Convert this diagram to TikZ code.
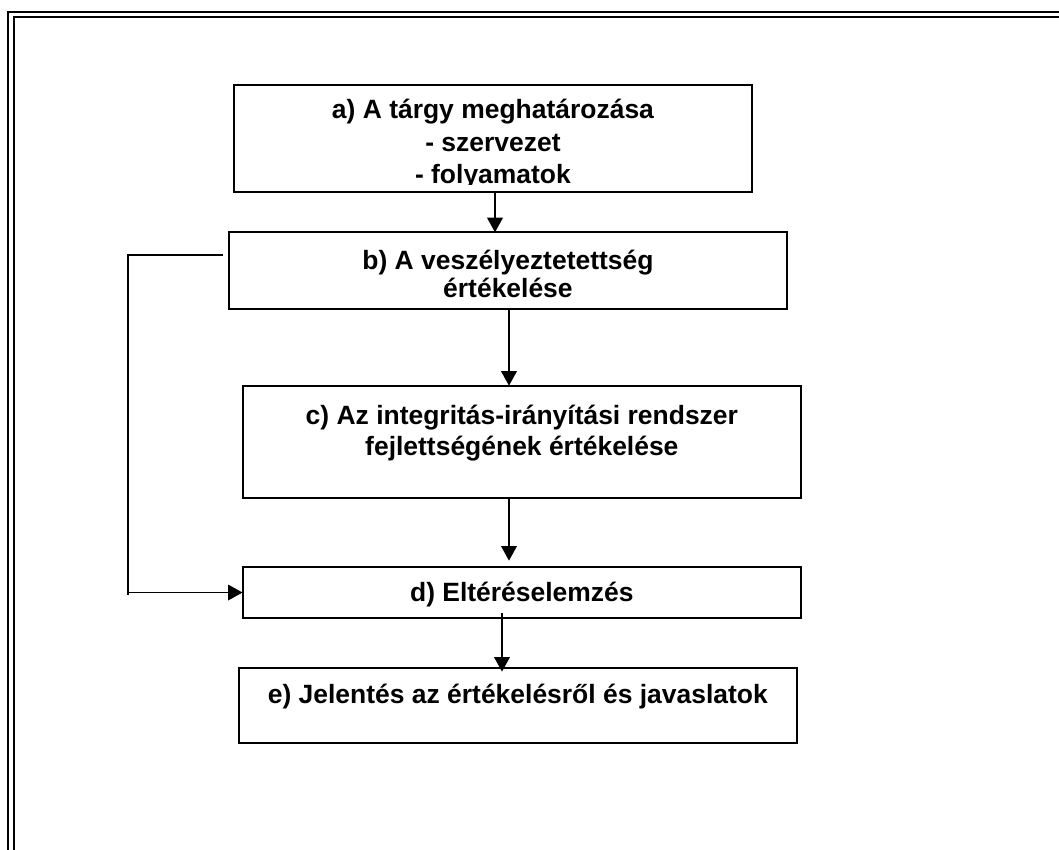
\documentclass[tikz,border=0pt]{standalone}
\usepackage{fontspec}
\setmainfont{Liberation Sans}
\usetikzlibrary{arrows.meta}

\begin{document}
\begin{tikzpicture}[x=0.48pt,y=-0.48pt,
	box/.style={draw, line width=1pt, inner sep=0pt, outer sep=0pt, anchor=north west},
	txt/.style={anchor=base, align=center, inner sep=0pt, font=\bfseries\fontsize{12.7}{13.3}\selectfont},
	conn/.style={line width=0.8pt},
	arr/.style={line width=0.8pt, -{Triangle[length=7pt,width=7.5pt]}},
	frame/.style={line width=0.9pt}]
		\useasboundingbox (0,0) rectangle (1059,850);
		% double frame, open to the right and bottom
		\draw[frame] (8.3,850) -- (8.3,11.8) -- (1059,11.8);
		\draw[frame] (13.8,850) -- (13.8,16.8) -- (1059,16.8);

		\node[box, minimum width=248.6pt, minimum height=51.2pt] (targy) at (234,85) {};
		\node[box, minimum width=267.8pt, minimum height=37pt] (veszely) at (229,232.3) {};
		\node[box, minimum width=268.1pt, minimum height=54pt] (integr) at (242.6,385.7) {};
		\node[box, minimum width=268.1pt, minimum height=24.8pt] (elteres) at (242.6,566.7) {};
		\node[box, minimum width=268pt, minimum height=36pt] (jelentes) at (238.7,668.3) {};

		% base of a multi-line node is its last line
		\begin{scope}
			\clip (234,85) rectangle (752,184.5);
			\node[txt, font=\bfseries\fontsize{12.7}{15.8}\selectfont] (targytext) at ([yshift=-47.5pt]targy.north) {a) A tárgy meghatározása\\- szervezet\\- folyamatok};
		\end{scope}
		\node[txt] (veszelytext) at ([yshift=-31.1pt]veszely.north) {b) A veszélyeztetettség\\értékelése};
		\node[txt, font=\bfseries\fontsize{12.7}{14.9}\selectfont] (integrtext) at ([yshift=-33.3pt]integr.north) {c) Az integritás-irányítási rendszer\\fejlettségének értékelése};
		\node[txt] (elterestext) at ([yshift=-16.5pt]elteres.north) {d) Eltéréselemzés};
		\node[txt] (jelentestext) at ([yshift=-16.8pt]jelentes.north) {e) Jelentés az értékelésről és javaslatok};

		\coordinate (ab) at (495,0);
		\coordinate (bc) at (509,0);
		\coordinate (de) at (502,0);
		\draw[arr] (targy.south -| ab) -- (veszely.north -| ab);
		\draw[arr] (veszely.south -| bc) -- (integr.north -| bc);
		\draw[arr, shorten >=2.9pt] (integr.south -| bc) -- (elteres.north -| bc);
		\draw[arr, shorten <=-2.7pt, shorten >=-1.6pt] (elteres.south -| de) -- (jelentes.north -| de);

		% feedback line from b) to d)
		\coordinate (fbstart) at (223.3,254.7);
		\coordinate (fbcorner) at (128,254.7);
		\coordinate (fbend) at (128,595.5);
		\draw[conn] (fbstart) -- (fbcorner) -- (fbend);
		\draw[arr] (fbcorner |- elteres.west) -- (elteres.west);
	\end{tikzpicture}
\end{document}
